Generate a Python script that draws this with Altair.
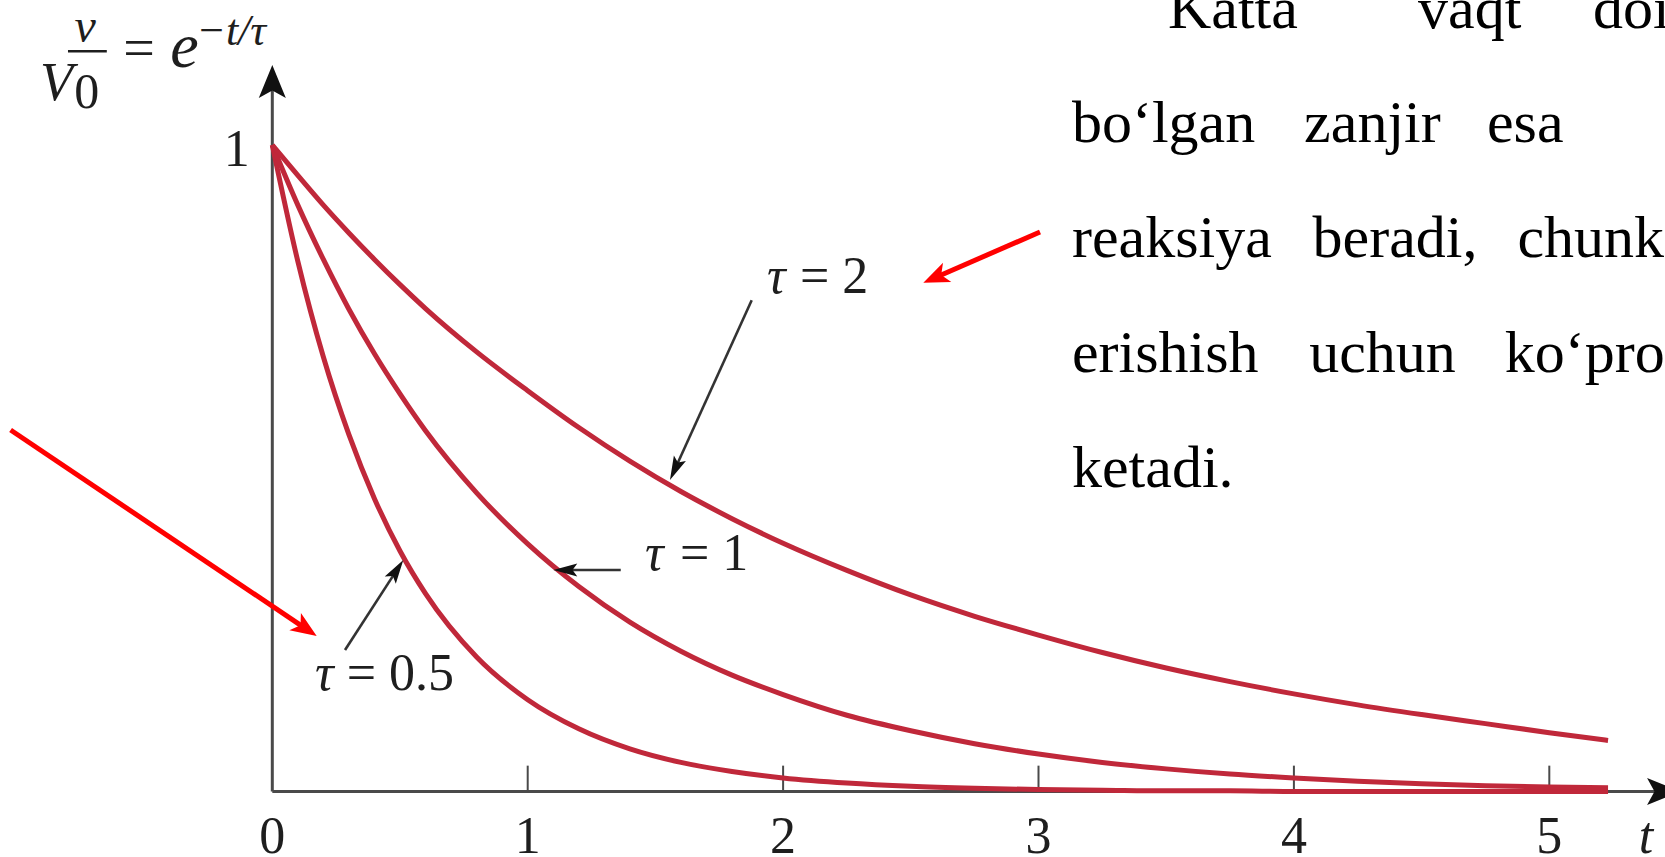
import math
import altair as alt
import pandas as pd

# ---- curve samples: v/V0 read at each time t for the three time constants ----
t_vals = [0, 0.1, 0.2, 0.3, 0.4, 0.5, 0.6, 0.8, 1.0, 1.2, 1.4, 1.6, 1.8, 2.0,
          2.25, 2.5, 2.75, 3.0, 3.25, 3.5, 3.75, 4.0, 4.25, 4.5, 4.75, 5.0, 5.23]
v_tau_05 = [1.0, 0.82, 0.672, 0.552, 0.453, 0.372, 0.306, 0.208, 0.142, 0.097, 0.066,
            0.045, 0.031, 0.021, 0.013, 0.008, 0.005, 0.003, 0.002, 0.001, 0.001,
            0.0, 0.0, 0.0, 0.0, 0.0, 0.0]
v_tau_1 = [1.0, 0.907, 0.823, 0.746, 0.677, 0.615, 0.558, 0.462, 0.383, 0.317, 0.262,
           0.217, 0.180, 0.150, 0.118, 0.094, 0.074, 0.058, 0.045, 0.035, 0.027,
           0.021, 0.016, 0.012, 0.009, 0.007, 0.006]
v_tau_2 = [1.0, 0.953, 0.907, 0.864, 0.823, 0.784, 0.747, 0.680, 0.620, 0.563, 0.511,
           0.464, 0.422, 0.384, 0.342, 0.304, 0.271, 0.242, 0.215, 0.191, 0.170,
           0.151, 0.134, 0.119, 0.105, 0.091, 0.079]

tick_values = [1, 2, 3, 4, 5]
tick_labels = ["0", "1", "2", "3", "4", "5"]

# ---- canvas / scales ----
W, H = 1665, 857
XD = [-1.0662, 5.4530]
YD = [-0.1013, 1.2243]
KX = W / (XD[1] - XD[0])
KY = H / (YD[1] - YD[0])
xs = alt.Scale(domain=XD, nice=False, zero=False)
ys = alt.Scale(domain=YD, nice=False, zero=False)

SERIF = "Liberation Serif"
CURVE = "#c0283a"
AXIS = "#4a4a4a"
INK = "#1e1e1e"


def X(field="t"):
    return alt.X(f"{field}:Q", scale=xs, axis=None)


def Y(field="v"):
    return alt.Y(f"{field}:Q", scale=ys, axis=None)


def head_path(half, notch):
    # arrowhead with its tip at the origin, pointing up
    return f"M0,0L{half},2L0,{notch}L{-half},2Z"


def arrows(rows, back):
    out = []
    for t0, v0, t1, v1 in rows:
        dx = (t1 - t0) * KX
        dy = (v1 - v0) * KY
        L = math.hypot(dx, dy)
        ux, uy = dx / L, dy / L
        out.append(dict(t0=t0, v0=v0, t1=t1, v1=v1,
                        te=t1 - ux * back / KX, ve=v1 - uy * back / KY,
                        angle=math.degrees(math.atan2(dx, dy)) % 360))
    return pd.DataFrame(out)


# ---- curves ----
curves = pd.concat([
    pd.DataFrame({"t": t_vals, "v": v, "tau": name})
    for name, v in [("0.5", v_tau_05), ("1", v_tau_1), ("2", v_tau_2)]
])
curve_layer = alt.Chart(curves).mark_line(
    color=CURVE, strokeWidth=5, interpolate="monotone"
).encode(x=X(), y=Y(), detail="tau:N", order="t:Q")

# ---- axes with arrowheads and ticks ----
axis_arrows = arrows([(0, 0, 0, 1.1237), (0, 0, 5.512, 0)], back=10)
axis_lines = alt.Chart(axis_arrows).mark_rule(color=AXIS, strokeWidth=3).encode(
    x=X("t0"), y=Y("v0"), x2="te:Q", y2="ve:Q")
axis_heads = alt.Chart(axis_arrows).mark_point(
    shape=head_path(0.82, 1.55), filled=True, color="#111", opacity=1, size=1089
).encode(x=X("t1"), y=Y("v1"), angle=alt.Angle("angle:Q", scale=None))

ticks = pd.DataFrame({"t": tick_values, "v0": 0.0, "v1": 0.040})
tick_layer = alt.Chart(ticks).mark_rule(color=AXIS, strokeWidth=2).encode(
    x=X(), y=Y("v0"), y2="v1:Q")

xlab = pd.DataFrame({"t": [0, 1, 2, 3, 4, 5], "v": -0.0948, "label": tick_labels})
xlab_layer = alt.Chart(xlab).mark_text(
    font=SERIF, fontSize=52, baseline="alphabetic", align="center", color=INK
).encode(x=X(), y=Y(), text="label:N")

ylab_layer = alt.Chart(pd.DataFrame({"t": [-0.139], "v": [0.967], "label": ["1"]})).mark_text(
    font=SERIF, fontSize=52, baseline="alphabetic", align="center", color=INK
).encode(x=X(), y=Y(), text="label:N")

tname_layer = alt.Chart(pd.DataFrame({"t": [5.378], "v": [-0.0948], "label": ["t"]})).mark_text(
    font=SERIF, fontSize=52, fontStyle="italic", baseline="alphabetic", align="center", color=INK
).encode(x=X(), y=Y(), text="label:N")

# ---- formula v/V0 = e^(-t/tau) ----
formula_italic = pd.DataFrame([
    dict(t=-0.733, v=1.159, label="v", fs=48, al="center"),
    dict(t=-0.9096, v=1.0696, label="V", fs=54, al="left"),
    dict(t=-0.400, v=1.1206, label="e", fs=64, al="left"),
    dict(t=-0.298, v=1.1547, label="\u2212t/\u03c4", fs=44, al="left"),
])
formula_plain = pd.DataFrame([
    dict(t=-0.775, v=1.0573, label="0", fs=50),
    dict(t=-0.584, v=1.1206, label="=", fs=56),
])
fi_layer = alt.Chart(formula_italic[formula_italic.al == "left"]).mark_text(
    font=SERIF, fontStyle="italic", baseline="alphabetic", align="left", color=INK
).encode(x=X(), y=Y(), text="label:N", size=alt.Size("fs:Q", scale=None))
fi_center = alt.Chart(formula_italic[formula_italic.al == "center"]).mark_text(
    font=SERIF, fontStyle="italic", baseline="alphabetic", align="center", color=INK
).encode(x=X(), y=Y(), text="label:N", size=alt.Size("fs:Q", scale=None))
fp_layer = alt.Chart(formula_plain).mark_text(
    font=SERIF, baseline="alphabetic", align="left", color=INK
).encode(x=X(), y=Y(), text="label:N", size=alt.Size("fs:Q", scale=None))
frac_bar = alt.Chart(pd.DataFrame({"t0": [-0.800], "t1": [-0.648], "v": [1.145]})).mark_rule(
    color=INK, strokeWidth=2.5
).encode(x=X("t0"), x2="t1:Q", y=Y())

# ---- tau labels with pointer arrows ----
tau_sym = pd.DataFrame({"t": [1.937, 1.459, 0.1672], "v": [0.7706, 0.3426, 0.157],
                        "label": ["\u03c4", "\u03c4", "\u03c4"]})
tau_val = pd.DataFrame({"t": [2.066, 1.596, 0.2913], "v": [0.7706, 0.3426, 0.157],
                        "label": ["= 2", "= 1", "= 0.5"]})
tau_sym_layer = alt.Chart(tau_sym).mark_text(
    font=SERIF, fontSize=52, fontStyle="italic", baseline="alphabetic", align="left", color=INK
).encode(x=X(), y=Y(), text="label:N")
tau_val_layer = alt.Chart(tau_val).mark_text(
    font=SERIF, fontSize=52, baseline="alphabetic", align="left", color=INK
).encode(x=X(), y=Y(), text="label:N")

pointer = arrows([(1.877, 0.760, 1.557, 0.4818),
                  (1.3643, 0.3426, 1.1002, 0.3426),
                  (0.2847, 0.2189, 0.5129, 0.3581)], back=10)
pointer_lines = alt.Chart(pointer).mark_rule(color="#333333", strokeWidth=2.6).encode(
    x=X("t0"), y=Y("v0"), x2="te:Q", y2="ve:Q")
pointer_heads = alt.Chart(pointer).mark_point(
    shape=head_path(0.55, 1.6), filled=True, color="#111", opacity=1, size=576
).encode(x=X("t1"), y=Y("v1"), angle=alt.Angle("angle:Q", scale=None))

# ---- red highlight arrows ----
red = arrows([(3.0059, 0.8655, 2.549, 0.787),
              (-1.0247, 0.5592, 0.1738, 0.2405)], back=12)
red_lines = alt.Chart(red).mark_rule(color="#ff0000", strokeWidth=5).encode(
    x=X("t0"), y=Y("v0"), x2="te:Q", y2="ve:Q")
red_heads = alt.Chart(red).mark_point(
    shape=head_path(0.8, 1.5), filled=True, color="#ff0000", opacity=1, size=676
).encode(x=X("t1"), y=Y("v1"), angle=alt.Angle("angle:Q", scale=None))

# ---- paragraph beside the figure (justified words) ----
para_words = ["Katta", "vaqt", "doimiysiga",
              "bo\u2018lgan", "zanjir", "esa",
              "reaksiya", "beradi,", "chunki",
              "erishish", "uchun", "ko\u2018proq",
              "ketadi."]
para_t = [3.507, 4.486, 5.171,
          3.131, 4.040, 4.756,
          3.131, 4.073, 4.875,
          3.131, 4.060, 4.826,
          3.131]
para_v = [1.181, 1.181, 1.181,
          1.0046, 1.0046, 1.0046,
          0.8268, 0.8268, 0.8268,
          0.6489, 0.6489, 0.6489,
          0.471]
para = pd.DataFrame({"t": para_t, "v": para_v, "label": para_words})
para_layer = alt.Chart(para).mark_text(
    font=SERIF, fontSize=60, baseline="alphabetic", align="left", color="#000000"
).encode(x=X(), y=Y(), text="label:N")

chart = alt.layer(
    axis_lines, tick_layer, curve_layer, axis_heads,
    pointer_lines, pointer_heads,
    xlab_layer, ylab_layer, tname_layer,
    fi_layer, fi_center, fp_layer, frac_bar,
    tau_sym_layer, tau_val_layer,
    para_layer,
    red_lines, red_heads,
).properties(
    width=W, height=H, padding=0,
    autosize=alt.AutoSizeParams(type="none"),
    background="white",
).configure_view(strokeWidth=0)

chart.save("out.html", embed_options={"renderer": "svg", "actions": False})
